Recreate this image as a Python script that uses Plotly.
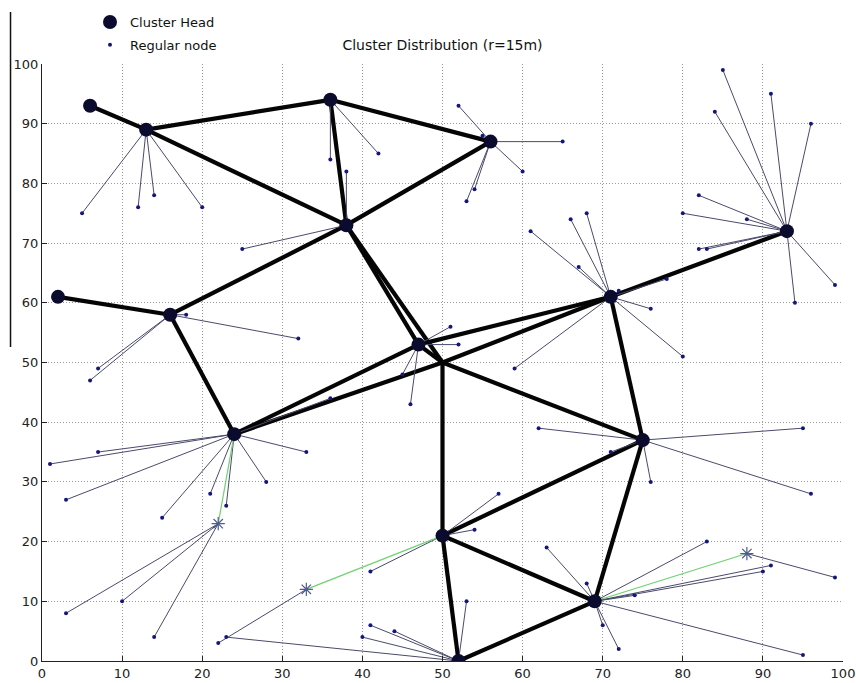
import plotly.graph_objects as go

# Cluster heads (x, y) in metres
ch_x = [6, 13, 36, 56, 38, 2, 16, 47, 71, 93, 24, 75, 50, 69, 52]
ch_y = [93, 89, 94, 87, 73, 61, 58, 53, 61, 72, 38, 37, 21, 10, 0]

# Sink location (routing junction, not drawn as a marker)
sink_x, sink_y = 50, 50
SINK = -1

# Inter-cluster routes: pairs of head indices (SINK = sink)
route_a = [0, 1, 2, 1, 2, 3, 4, 5, 6, 4, 4, 10, 10, 7, 7, SINK, 8, 8, SINK, SINK, 11, 11, 12, 12, 14]
route_b = [1, 2, 3, 4, 4, 4, 6, 6, 10, 7, SINK, 7, SINK, SINK, 8, 8, 9, 11, 11, 12, 12, 13, 13, 14, 13]

# Relay nodes (drawn as asterisks) and the head they report to
relay_x = [22, 33, 88]
relay_y = [23, 12, 18]
relay_head = [10, 12, 13]

# Regular nodes, with the parent they attach to
# parent >= 0 : cluster head index; ("r", k) : relay k
node_x = [5, 12, 14, 20,
          36, 42,
          52, 55, 65, 60, 54, 53,
          38, 25,
          18, 32, 7, 6,
          51, 52, 45, 46,
          61, 66, 68, 67, 72, 78, 76, 80, 59,
          85, 91, 84, 96, 82, 80, 88, 82, 83, 94, 99,
          1, 7, 3, 15, 21, 23, 28, 33, 36,
          95, 96, 76, 71, 62,
          57, 54, 41,
          63, 68, 70, 72, 74, 83, 91, 90, 95,
          53, 41, 44, 40, 23,
          3, 10, 14,
          22,
          99]
node_y = [75, 76, 78, 76,
          84, 85,
          93, 88, 87, 82, 79, 77,
          82, 69,
          58, 54, 49, 47,
          56, 53, 48, 43,
          72, 74, 75, 66, 62, 64, 59, 51, 49,
          99, 95, 92, 90, 78, 75, 74, 69, 69, 60, 63,
          33, 35, 27, 24, 28, 26, 30, 35, 44,
          39, 28, 30, 35, 39,
          28, 22, 15,
          19, 13, 6, 2, 11, 20, 16, 15, 1,
          10, 6, 5, 4, 4,
          8, 10, 4,
          3,
          14]
node_parent = ([1] * 4 + [2] * 2 + [3] * 6 + [4] * 2 + [6] * 4 + [7] * 4 +
               [8] * 9 + [9] * 11 + [10] * 9 + [11] * 5 + [12] * 3 +
               [13] * 9 + [14] * 5 +
               [("r", 0)] * 3 + [("r", 1)] + [("r", 2)])


def head_xy(i):
    if i == SINK:
        return sink_x, sink_y
    return ch_x[i], ch_y[i]


def parent_xy(p):
    if isinstance(p, tuple):
        return relay_x[p[1]], relay_y[p[1]]
    return ch_x[p], ch_y[p]


# Segment lists with None breaks
thick_x, thick_y = [], []
for a, b in zip(route_a, route_b):
    xa, ya = head_xy(a)
    xb, yb = head_xy(b)
    thick_x += [xa, xb, None]
    thick_y += [ya, yb, None]

thin_x, thin_y = [], []
for x, y, p in zip(node_x, node_y, node_parent):
    px, py = parent_xy(p)
    thin_x += [px, x, None]
    thin_y += [py, y, None]

green_x, green_y = [], []
for x, y, h in zip(relay_x, relay_y, relay_head):
    green_x += [ch_x[h], x, None]
    green_y += [ch_y[h], y, None]

FONT = "DejaVu Sans, Verdana, sans-serif"

fig = go.Figure()

fig.add_trace(go.Scatter(x=thick_x, y=thick_y, mode="lines",
                         line=dict(color="#050505", width=4.2),
                         showlegend=False, hoverinfo="skip"))
fig.add_trace(go.Scatter(x=thin_x, y=thin_y, mode="lines",
                         line=dict(color="#4a4a6c", width=1),
                         showlegend=False, hoverinfo="skip"))
fig.add_trace(go.Scatter(x=green_x, y=green_y, mode="lines",
                         line=dict(color="#6fd26f", width=1.2),
                         showlegend=False, hoverinfo="skip"))
fig.add_trace(go.Scatter(x=node_x, y=node_y, mode="markers", name="Regular node",
                         marker=dict(symbol="circle", size=4, color="#16167a",
                                     line=dict(width=0)),
                         legendrank=2, legendgroup="nodes"))
fig.add_trace(go.Scatter(x=relay_x, y=relay_y, mode="markers",
                         marker=dict(symbol="asterisk-open", size=11, color="#4d5c94",
                                     line=dict(color="#4d5c94", width=1.2)),
                         showlegend=False))
fig.add_trace(go.Scatter(x=ch_x, y=ch_y, mode="markers", name="Cluster Head",
                         marker=dict(symbol="circle", size=14, color="#0b0b2e",
                                     line=dict(width=0)),
                         legendrank=1, legendgroup="heads"))

axis_common = dict(
    range=[0, 100], dtick=10, tick0=0,
    showgrid=True, gridcolor="#9a9a9a", griddash="1px,2px", gridwidth=1,
    zeroline=False, showline=True, linecolor="#222", linewidth=1,
    ticks="inside", ticklen=5, tickcolor="#222",
    tickfont=dict(family=FONT, size=13, color="#222"),
    automargin=False, fixedrange=True,
)

fig.update_xaxes(**axis_common)
fig.update_yaxes(**axis_common)

fig.update_layout(
    width=856, height=683,
    margin=dict(l=42, r=13, t=64, b=22, autoexpand=False),
    paper_bgcolor="white", plot_bgcolor="white",
    font=dict(family=FONT, color="#111"),
    title=dict(text="Cluster Distribution (r=15m)", x=0.5, xref="paper",
               y=1 - 45 / 683, yref="container", yanchor="middle", xanchor="center",
               font=dict(family=FONT, size=14, color="#111")),
    legend=dict(x=90 / 856, y=1 - 7 / 683, xref="container", yref="container",
                xanchor="left", yanchor="top",
                bgcolor="rgba(0,0,0,0)", font=dict(family=FONT, size=13, color="#111"),
                tracegroupgap=3, itemwidth=30),
    shapes=[dict(type="line", xref="paper", yref="paper",
                 x0=-0.0393, x1=-0.0393, y0=0.526, y1=1.087,
                 line=dict(color="#111", width=1.5))],
)

fig.write_html("out.html")
